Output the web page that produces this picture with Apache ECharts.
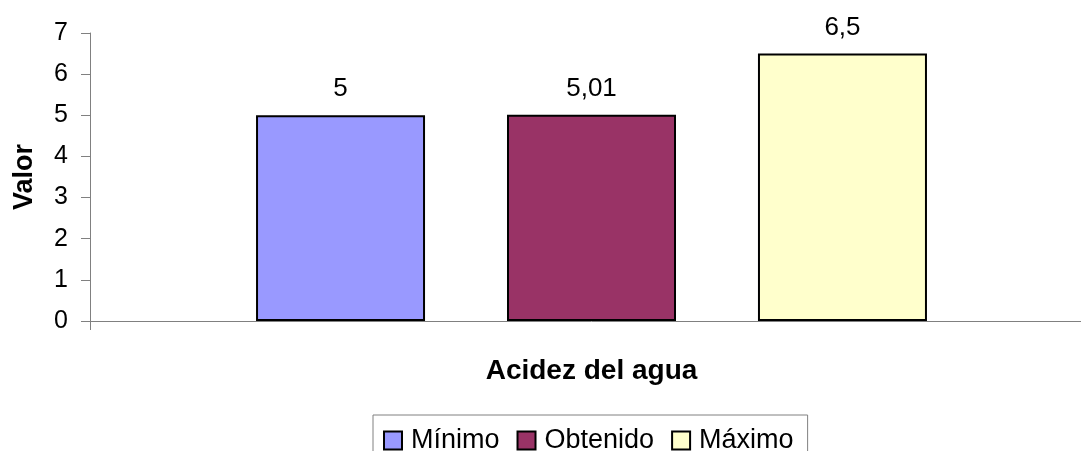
<!DOCTYPE html>
<html>
<head>
<meta charset="utf-8">
<script src="https://cdn.jsdelivr.net/npm/echarts@6/dist/echarts.min.js"></script>
<style>
    html, body { margin: 0; padding: 0; background: #fff; overflow: hidden; }
    #myChart { width: 1093px; height: 451px; }
</style>
</head>
<body>
<div id="myChart"></div>
<script>
    // datos
    var categories = ['Acidez del agua']
    var seriesNames = ['Mínimo', 'Obtenido', 'Máximo']
    var seriesValues = [[5], [5.01], [6.5]]
    var seriesColors = ['#9999FF', '#993366', '#FFFFCC']
    var yTicks = [0, 1, 2, 3, 4, 5, 6, 7]

    var font = 'Liberation Sans, Arial, sans-serif'
    var myChart = echarts.init(document.getElementById('myChart'))

    var series = seriesNames.map(function (name, i) {
        return {
            name: name,
            type: 'bar',
            data: seriesValues[i],
            barWidth: 169,
            barGap: '48.5%',
            itemStyle: {
                color: seriesColors[i],
                borderColor: '#000',
                borderWidth: 2
            },
            label: {
                show: true,
                position: 'top',
                distance: 13,
                color: '#000',
                fontFamily: font,
                fontSize: 26,
                formatter: function (p) {
                    return String(p.value).replace('.', ',')
                }
            }
        }
    })

    myChart.setOption({
        animation: false,
        legend: {
            data: seriesNames,
            left: 373,
            top: 415,
            itemWidth: 18,
            itemHeight: 18,
            itemGap: 17,
            padding: [12, 14, 10, 10],
            borderColor: '#808080',
            borderWidth: 1,
            icon: 'rect',
            itemStyle: { borderColor: '#000', borderWidth: 2 },
            textStyle: { fontFamily: font, fontSize: 27, color: '#000', padding: [0, 0, 0, 4] }
        },
        grid: { left: 90, top: 33, right: 0, height: 288 },
        xAxis: {
            type: 'category',
            data: categories,
            name: categories[0],
            nameLocation: 'middle',
            nameGap: 36,
            nameTextStyle: { fontFamily: font, fontSize: 28, fontWeight: 'bold', color: '#000' },
            axisLine: { lineStyle: { color: '#808080', width: 1 } },
            axisTick: { show: true, inside: false, length: 9, lineStyle: { color: '#808080' } },
            axisLabel: { show: false }
        },
        yAxis: {
            type: 'value',
            min: yTicks[0],
            max: yTicks[yTicks.length - 1],
            interval: 1,
            name: 'Valor',
            nameLocation: 'middle',
            nameRotate: 90,
            nameGap: 52,
            nameTextStyle: { fontFamily: font, fontSize: 27, fontWeight: 'bold', color: '#000' },
            axisLine: { show: true, lineStyle: { color: '#808080', width: 1 } },
            axisTick: { show: true, length: 9, lineStyle: { color: '#808080' } },
            splitLine: { show: false },
            axisLabel: { fontFamily: font, fontSize: 25, color: '#000', margin: 22 }
        },
        series: series
    })
</script>
</body>
</html>
